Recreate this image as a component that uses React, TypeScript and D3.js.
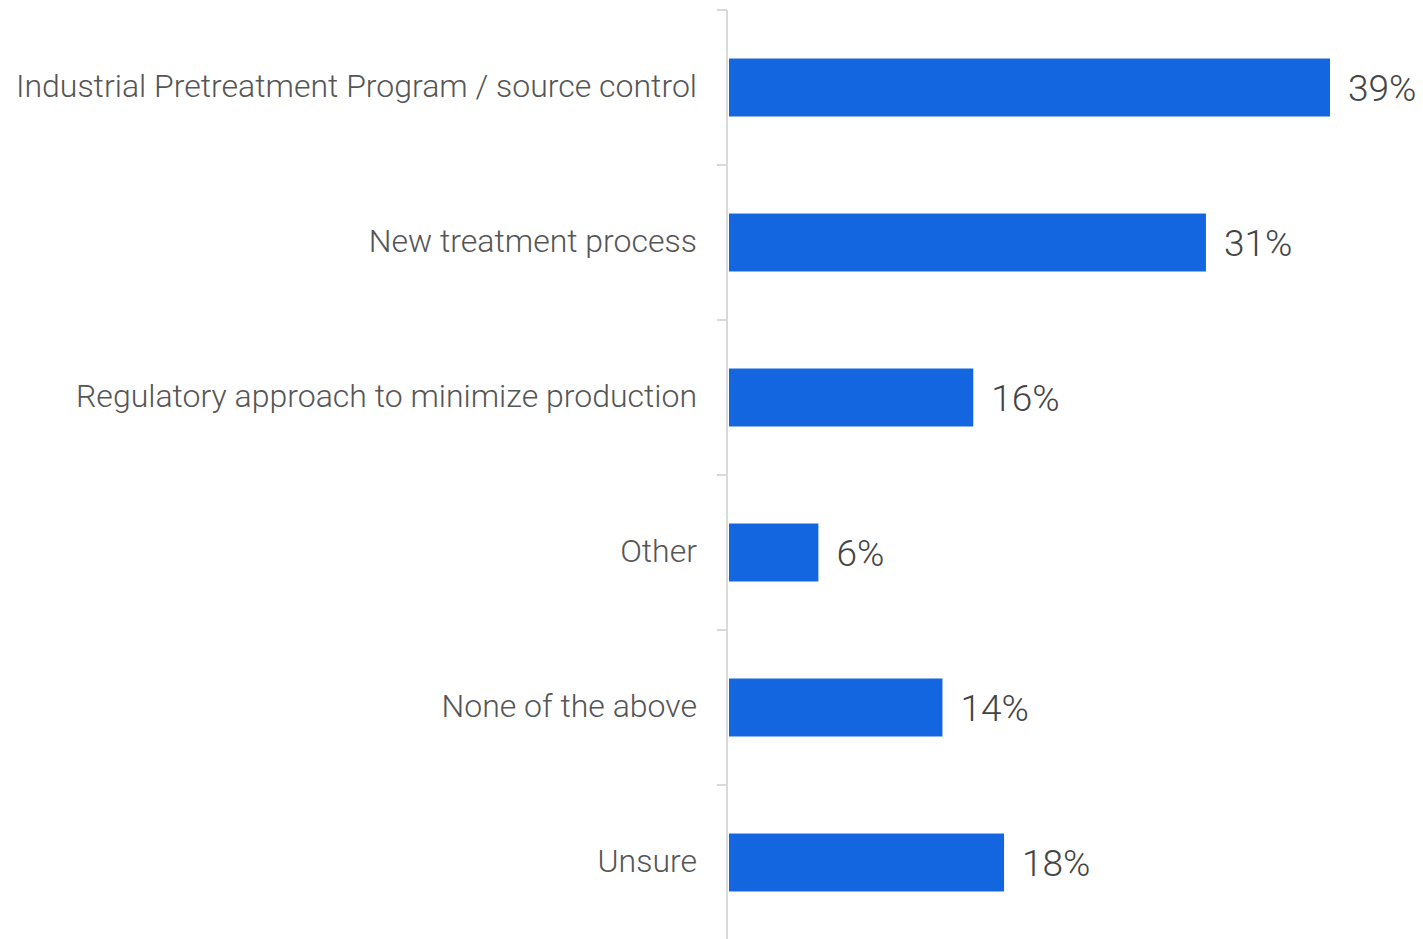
import React, {useEffect, useRef} from 'react';
import * as d3 from 'd3';

const categories = [
  'Industrial Pretreatment Program / source control',
  'New treatment process',
  'Regulatory approach to minimize production',
  'Other',
  'None of the above',
  'Unsure',
];
const values = [39.0, 30.95, 15.85, 5.8, 13.85, 17.85];
const labels = ['39%', '31%', '16%', '6%', '14%', '18%'];

const W = 1423;
const H = 939;

const App = () => {
  const svgRef = useRef<SVGSVGElement>(null);

  useEffect(() => {
    const svg = d3.select(svgRef.current);
    svg.selectAll('*').remove();

    const axisX = 727;
    const p = 0.626;

    const x = d3.scaleLinear().domain([0, 39]).range([axisX + 2, 1330]);
    const y = d3.scaleBand<string>()
      .domain(categories)
      .range([10, 940])
      .paddingInner(p)
      .paddingOuter(p / 2);
    const step = y.step();

    // bars
    svg.append('g')
      .selectAll('rect')
      .data(categories)
      .join('rect')
      .attr('x', x(0))
      .attr('y', d => y(d) as number)
      .attr('width', (d, i) => x(values[i]) - x(0))
      .attr('height', y.bandwidth())
      .attr('fill', '#1366e0');

    // axis line + ticks at band edges
    const g = svg.append('g').attr('stroke', '#d9d9d9').attr('stroke-width', 2);
    g.append('line')
      .attr('x1', axisX).attr('x2', axisX)
      .attr('y1', 10).attr('y2', 940);
    const edges = d3.range(categories.length).map(i => 10 + i * step);
    g.selectAll('line.tick')
      .data(edges)
      .join('line')
      .attr('class', 'tick')
      .attr('x1', axisX - 10).attr('x2', axisX)
      .attr('y1', d => d).attr('y2', d => d);

    // category labels
    svg.append('g')
      .selectAll('text')
      .data(categories)
      .join('text')
      .attr('x', 697)
      .attr('y', d => (y(d) as number) + y.bandwidth() / 2)
      .attr('dy', '0.3em')
      .attr('text-anchor', 'end')
      .attr('font-family', 'Roboto')
      .attr('font-weight', 300)
      .attr('font-size', 32)
      .attr('fill', '#555')
      .text(d => d);

    // value labels
    svg.append('g')
      .selectAll('text')
      .data(categories)
      .join('text')
      .attr('x', (d, i) => x(values[i]) + 18)
      .attr('y', d => (y(d) as number) + y.bandwidth() / 2)
      .attr('dy', '0.37em')
      .attr('font-family', 'Roboto')
      .attr('font-weight', 300)
      .attr('font-size', 37)
      .attr('fill', '#444')
      .text((d, i) => labels[i]);
  }, []);

  return (
    <svg ref={svgRef} width={W} height={H}
      style={{position: 'absolute', left: 0, top: 0, background: '#fff'}} />
  );
};

export default App;
